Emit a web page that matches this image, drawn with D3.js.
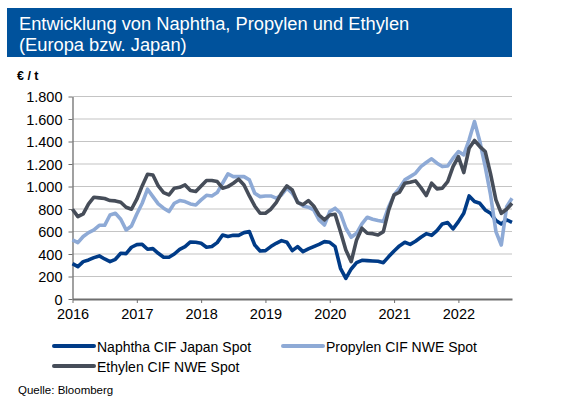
<!DOCTYPE html>
<html>
<head>
<meta charset="utf-8">
<script src="https://cdn.jsdelivr.net/npm/d3@7"></script>
<style>
  body { margin: 0; background: #fff; }
  svg { font-family: "Liberation Sans", Arial, sans-serif; }
</style>
</head>
<body>
<div id="chart"></div>
<script>
// monthly values Jan 2016 .. Nov 2022, EUR per tonne
var startYear = 2016;
var yearTicks = [2016, 2017, 2018, 2019, 2020, 2021, 2022];
var yTicks = [0, 200, 400, 600, 800, 1000, 1200, 1400, 1600, 1800];

var naphtha = [
  315, 288, 332, 347, 368, 383, 356, 332, 353, 406, 403, 460,
  483, 486, 442, 448, 406, 371, 371, 400, 442, 466, 507, 504,
  495, 460, 466, 501, 569, 555, 566, 566, 590, 599, 480, 427,
  430, 466, 495, 519, 504, 430, 466, 421, 445, 466, 486, 510,
  504, 466, 273, 184, 267, 323, 344, 341, 338, 335, 323, 377,
  427, 472, 504, 486, 513, 549, 581, 566, 608, 667, 679, 623,
  688, 762, 916, 866, 851, 792, 762, 697, 667, 703, 682
];
var propylen = [
  525, 501, 555, 590, 614, 655, 655, 747, 762, 709, 614, 649,
  756, 851, 976, 910, 845, 807, 777, 851, 875, 866, 845, 836,
  881, 922, 916, 946, 1029, 1112, 1088, 1088, 1088, 1059, 940, 910,
  916, 916, 896, 925, 985, 940, 866, 827, 816, 792, 703, 658,
  777, 807, 762, 629, 549, 584, 667, 727, 709, 697, 688, 821,
  925, 985, 1059, 1088, 1118, 1177, 1213, 1246, 1207, 1177, 1183, 1252,
  1311, 1281, 1415, 1578, 1400, 1177, 925, 599, 480, 821, 896
];
var ethylen = [
  798, 732, 756, 845, 905, 899, 893, 875, 872, 860, 816, 798,
  887, 1005, 1109, 1103, 1005, 946, 925, 985, 993, 1014, 964, 955,
  1005, 1053, 1053, 1044, 985, 999, 1029, 1065, 1014, 916, 827, 762,
  762, 798, 857, 940, 1005, 970, 857, 839, 875, 827, 747, 703,
  747, 753, 599, 436, 332, 525, 629, 584, 581, 569, 599, 792,
  925, 949, 1029, 1038, 1050, 990, 919, 1029, 979, 985, 1044, 1177,
  1266, 1124, 1340, 1409, 1355, 1311, 1112, 881, 762, 798, 851
];

var series = [
  { name: "Naphtha CIF Japan Spot", values: naphtha, color: "#003B87" },
  { name: "Propylen CIF NWE Spot", values: propylen, color: "#8EAAD6" },
  { name: "Ethylen CIF NWE Spot", values: ethylen, color: "#464D59" }
];

var W = 565, H = 409;
var margin = { top: 96.5, right: 53, bottom: 110, left: 72.5 };
var width = W - margin.left - margin.right;
var height = H - margin.top - margin.bottom;

var svg = d3.select("#chart").append("svg")
  .attr("width", W).attr("height", H);

// title banner
svg.append("rect").attr("x", 7).attr("y", 8).attr("width", 505).attr("height", 49)
  .attr("fill", "#00529C");
svg.append("text").attr("x", 19).attr("y", 30).attr("fill", "#fff")
  .attr("font-size", 18.3).text("Entwicklung von Naphtha, Propylen und Ethylen");
svg.append("text").attr("x", 19).attr("y", 51).attr("fill", "#fff")
  .attr("font-size", 18.3).text("(Europa bzw. Japan)");

svg.append("text").attr("x", 17).attr("y", 80).attr("font-size", 12.5)
  .attr("font-weight", "bold").text("€ / t");

var g = svg.append("g")
  .attr("transform", "translate(" + margin.left + "," + margin.top + ")");

var x = d3.scaleLinear()
  .domain([startYear, startYear + (naphtha.length - 1) / 12])
  .range([0, width]);
var y = d3.scaleLinear().domain([0, 1800]).range([height, 0]);

// gridlines
g.append("g").selectAll("line").data(yTicks.slice(1)).enter().append("line")
  .attr("x1", 0).attr("x2", width)
  .attr("y1", function(d) { return y(d); }).attr("y2", function(d) { return y(d); })
  .attr("stroke", "#C4C4C4").attr("stroke-width", 1.2);

var fmt = function(d) { return d3.format(",")(d).replace(/,/g, "."); };

var yAxis = g.append("g")
  .call(d3.axisLeft(y).tickValues(yTicks).tickSize(4).tickSizeOuter(0).tickFormat(fmt));
yAxis.select(".domain").attr("stroke", "#6E6E6E").attr("stroke-width", 1.3);
yAxis.selectAll(".tick line").attr("stroke", "#6E6E6E");
yAxis.selectAll("text").attr("font-size", 14.5).attr("fill", "#000")
  .attr("font-family", "Liberation Sans, Arial, sans-serif").attr("x", -10).attr("dy", "0.36em");

var xAxis = g.append("g").attr("transform", "translate(0," + height + ")")
  .call(d3.axisBottom(x).tickValues(yearTicks).tickSize(4).tickSizeOuter(0).tickFormat(d3.format("d")));
xAxis.select(".domain").attr("stroke", "#6E6E6E").attr("stroke-width", 2);
xAxis.selectAll(".tick line").attr("stroke", "#6E6E6E");
xAxis.selectAll("text").attr("font-size", 14.5).attr("fill", "#000")
  .attr("font-family", "Liberation Sans, Arial, sans-serif").attr("y", 10);

var line = d3.line()
  .x(function(d, i) { return x(startYear + i / 12); })
  .y(function(d) { return y(d); });

g.selectAll(".series").data(series).enter().append("path")
  .attr("class", "series")
  .attr("d", function(s) { return line(s.values); })
  .attr("fill", "none")
  .attr("stroke", function(s) { return s.color; })
  .attr("stroke-width", 3.6)
  .attr("stroke-linejoin", "round");

// legend
var legendPos = [[54, 346], [283, 346], [54, 366]];
var lg = svg.append("g").selectAll("g").data(series).enter().append("g")
  .attr("transform", function(d, i) { return "translate(" + legendPos[i][0] + "," + legendPos[i][1] + ")"; });
lg.append("line").attr("x1", 0).attr("x2", 40).attr("y1", 0).attr("y2", 0)
  .attr("stroke", function(d) { return d.color; }).attr("stroke-width", 4)
  .attr("stroke-linecap", "round");
lg.append("text").attr("x", 43).attr("y", 5.5).attr("font-size", 14)
  .text(function(d) { return d.name; });

svg.append("text").attr("x", 18).attr("y", 394).attr("font-size", 11.5)
  .attr("font-family", "Liberation Sans Narrow, Liberation Sans, Arial, sans-serif")
  .text("Quelle: Bloomberg");
</script>
</body>
</html>
